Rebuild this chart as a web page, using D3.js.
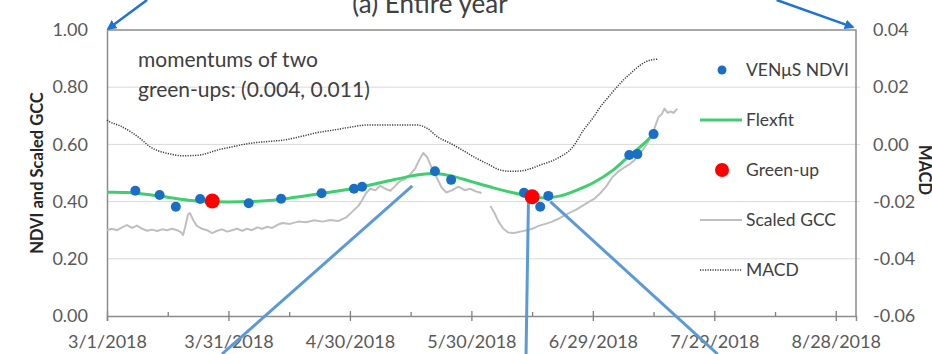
<!DOCTYPE html>
<html>
<head>
<meta charset="utf-8">
<script src="https://cdn.jsdelivr.net/npm/d3@7"></script>
<style>
  body { margin: 0; background: #fff; }
  svg { display: block; font-family: Lato, "Open Sans", sans-serif; }
  .axis .tick text { fill: #595959; font-size: 18px; }
</style>
</head>
<body>
<svg id="chart"></svg>
<script>
// ---------------- data (days since 3/1/2018) ----------------
const xTickLabels = ['3/1/2018', '3/31/2018', '4/30/2018', '5/30/2018', '6/29/2018', '7/29/2018', '8/28/2018'];
const yLeftTicks = [0, 0.2, 0.4, 0.6, 0.8, 1.0];
const yRightTicks = [-0.06, -0.04, -0.02, 0, 0.02, 0.04];

const ndviDays = [7, 13, 17, 23, 35, 43, 53, 61, 63, 81, 85, 103, 107, 109, 129, 131, 135];
const ndviValues = [0.438, 0.423, 0.382, 0.409, 0.394, 0.410, 0.429, 0.445, 0.452, 0.506, 0.476, 0.431, 0.382, 0.420, 0.563, 0.566, 0.636];

const greenupDays = [26, 105];
const greenupValues = [0.402, 0.417];

const flexfitDays = [0, 5, 10, 15, 20, 25, 30, 35, 40, 45, 50, 55, 60, 65, 70, 75, 78, 81, 85, 90, 95, 100, 105, 108, 112, 116, 120, 125, 129, 132, 135];
const flexfitValues = [0.433, 0.432, 0.425, 0.415, 0.405, 0.400, 0.399, 0.400, 0.404, 0.412, 0.422, 0.433, 0.444, 0.458, 0.474, 0.489, 0.496, 0.498, 0.490, 0.470, 0.450, 0.432, 0.418, 0.413, 0.420, 0.440, 0.465, 0.510, 0.560, 0.595, 0.635];

const gccDays = [0, 1.2, 2.5, 3.7, 4.9, 6.2, 7.4, 8.7, 9.9, 11.1,
  12.4, 13.6, 14.8, 16.1, 17.3, 18.3, 18.8, 19.3, 20, 20.5,
  21.3, 22.2, 23.5, 24.7, 26, 27.2, 28.4, 29.7, 30.9, 32.1,
  33.4, 34.6, 35.8, 37.1, 38.3, 39.6, 40.8, 42, 43.3, 45.2,
  47.2, 49.2, 51.2, 53.2, 55.1, 57.1, 59.1, 60.6, 62.1, 63,
  64, 65, 66.3, 67.5, 68.7, 70, 71.2, 72.4, 73.7, 74.9,
  76.1, 77.1, 78.1, 79.1, 80.3, 81.6, 82.6, 83.8, 85.3, 86.8,
  88.3, 89.7, 91.2, 92.5, 93.5, 94.7, 95.7, 96.7, 97.9, 99.1,
  100.6, 102.1, 103.6, 105.1, 106.6, 108.3, 110, 111.5, 113, 114.5,
  115.9, 117.4, 118.9, 120.4, 121.9, 123.4, 124.8, 126.3, 127.8, 129,
  130.3, 131.3, 132.3, 133.3, 134.2, 135.2, 136.2, 137, 137.7, 138.5,
  139.2, 139.9, 140.9];
const gccValues = [0.300, 0.305, 0.300, 0.310, 0.318, 0.308, 0.316, 0.305, 0.298, 0.302,
  0.297, 0.303, 0.300, 0.305, 0.300, 0.292, 0.283, 0.310, 0.355, 0.360,
  0.335, 0.315, 0.305, 0.300, 0.290, 0.298, 0.303, 0.295, 0.300, 0.305,
  0.298, 0.305, 0.300, 0.310, 0.305, 0.312, 0.308, 0.318, 0.325, 0.322,
  0.330, 0.328, 0.335, 0.330, 0.336, 0.332, 0.345, 0.365, 0.385, 0.405,
  0.430, 0.445, 0.440, 0.455, 0.445, 0.438, 0.455, 0.472, 0.480, 0.495,
  0.515, 0.545, 0.570, 0.555, 0.515, 0.480, 0.450, 0.432, 0.440, 0.452,
  0.440, 0.445, 0.435, 0.430, null, 0.385, 0.360, 0.330, 0.305, 0.292,
  0.290, 0.295, 0.300, 0.305, 0.315, 0.322, 0.330, 0.340, 0.352, 0.362,
  0.372, 0.385, 0.398, 0.410, 0.430, 0.455, 0.485, 0.505, 0.520, 0.530,
  0.545, 0.565, 0.580, 0.600, 0.630, 0.655, 0.695, 0.705, 0.725, 0.710,
  0.715, 0.710, 0.725];

const macdDays = [0, 0.7, 3.2, 6.4, 8.7, 10.6, 12.6, 14.8, 16.8, 18.8,
  21, 23, 25, 27.2, 30.4, 35.4, 39.6, 43.5, 47.7, 51.9,
  55.9, 60, 64.3, 68.7, 72.4, 76.6, 79.1, 81.8, 84.8, 87.8,
  90.5, 94, 97.2, 99.6, 102.1, 104.6, 107, 109.5, 112, 115,
  117.7, 120, 121.9, 124.4, 126.8, 129.3, 131.8, 134.2, 136.2];
const macdValues = [0.0085, 0.0079, 0.0065, 0.0039, 0.0015, -0.0008, -0.0022, -0.0031, -0.0037, -0.0040,
  -0.0039, -0.0037, -0.0030, -0.0020, -0.0010, 0.0004, 0.0010, 0.0015, 0.0027, 0.0041,
  0.0050, 0.0060, 0.0068, 0.0068, 0.0068, 0.0068, 0.0056, 0.0025, 0.0004, -0.0020,
  -0.0043, -0.0068, -0.0090, -0.0094, -0.0093, -0.0085, -0.0072, -0.0060, -0.0043, -0.0010,
  0.0050, 0.0092, 0.0132, 0.0175, 0.0214, 0.0248, 0.0278, 0.0295, 0.0298];

// annotation pointer lines from the surrounding figure: [fromDay, fromVal, toDay, toVal]
const pointerArrows = [[9.9, 1.105, 0.3, 1.004], [165.4, 1.105, 184.2, 1.01]];
const pointerLines = [[75.4, 0.455, 28.4, -0.133], [104.1, 0.406, 103.5, -0.133], [109.5, 0.40, 150.8, -0.133]];

const legendItems = [
  {label: 'VENμS NDVI', type: 'ndvi'},
  {label: 'Flexfit', type: 'flexfit'},
  {label: 'Green-up', type: 'greenup'},
  {label: 'Scaled GCC', type: 'gcc'},
  {label: 'MACD', type: 'macd'}
];

class PhenologyChart {

  constructor(_config) {
    this.config = {
      parentElement: _config.parentElement,
      containerWidth: 932,
      containerHeight: 354,
      margin: {top: 30, right: 76, bottom: 38, left: 107},
      startDate: new Date(2018, 2, 1),
      endDate: new Date(2018, 8, 2)
    };
    this.initVis();
  }

  initVis() {
    let vis = this;
    const cfg = vis.config;
    vis.width = cfg.containerWidth - cfg.margin.left - cfg.margin.right;
    vis.height = cfg.containerHeight - cfg.margin.top - cfg.margin.bottom;

    vis.svg = d3.select(cfg.parentElement)
      .attr('width', cfg.containerWidth)
      .attr('height', cfg.containerHeight);

    vis.chart = vis.svg.append('g')
      .attr('transform', `translate(${cfg.margin.left},${cfg.margin.top})`);

    const toDate = d => new Date(cfg.startDate.getTime() + d * 864e5);

    //----------------------------SCALES----------------------------//
    const xScale = d3.scaleTime().domain([cfg.startDate, cfg.endDate]).range([0, vis.width]);
    const yLeft = d3.scaleLinear().domain([0, 1]).range([vis.height, 0]);
    const yRight = d3.scaleLinear().domain([-0.06, 0.04]).range([vis.height, 0]);

    //----------------------------GRID------------------------------//
    vis.chart.append('g')
      .selectAll('line')
      .data(yLeftTicks.filter(d => d > 0 && d < 1))
      .join('line')
      .attr('x1', 0).attr('x2', vis.width + 4)
      .attr('y1', d => yLeft(d)).attr('y2', d => yLeft(d))
      .attr('stroke', '#d9d9d9').attr('stroke-width', 1);

    // top and right border
    vis.chart.append('path')
      .attr('d', `M0,0H${vis.width}V${vis.height}`)
      .attr('fill', 'none').attr('stroke', '#8c8c8c').attr('stroke-width', 1.5);

    //-----------------------------AXES-----------------------------//
    const parseTick = d3.timeParse('%m/%d/%Y');
    const tickDates = xTickLabels.map(parseTick);

    const xAxis = d3.axisBottom(xScale)
      .tickValues(tickDates)
      .tickFormat((d, i) => xTickLabels[i])
      .tickSize(5)
      .tickPadding(14);

    const xAxisG = vis.chart.append('g')
      .attr('class', 'axis')
      .attr('transform', `translate(0,${vis.height})`)
      .call(xAxis);
    xAxisG.select('.domain').attr('stroke', '#8c8c8c').attr('stroke-width', 1.5);
    xAxisG.selectAll('.tick line').attr('y1', -5).attr('y2', 5).attr('stroke', '#7f7f7f').attr('stroke-width', 1.3);

    const minorAxis = d3.axisBottom(xScale)
      .tickValues(tickDates.map(d => d3.timeDay.offset(d, 15)).filter(d => d < cfg.endDate))
      .tickFormat('')
      .tickSize(-4);
    const minorG = vis.chart.append('g')
      .attr('transform', `translate(0,${vis.height})`)
      .call(minorAxis);
    minorG.select('.domain').remove();
    minorG.selectAll('.tick line').attr('stroke', '#7f7f7f').attr('stroke-width', 1.3);

    const yAxisL = d3.axisLeft(yLeft)
      .tickValues(yLeftTicks)
      .tickFormat(d => d.toFixed(2))
      .tickSize(0)
      .tickPadding(19);
    const yLG = vis.chart.append('g').attr('class', 'axis').call(yAxisL);
    yLG.select('.domain').attr('stroke', '#8c8c8c').attr('stroke-width', 1.5);

    const yAxisR = d3.axisRight(yRight)
      .tickValues(yRightTicks)
      .tickFormat(d => d.toFixed(2))
      .tickSize(0)
      .tickPadding(17);
    const yRG = vis.chart.append('g')
      .attr('class', 'axis')
      .attr('transform', `translate(${vis.width},0)`)
      .call(yAxisR);
    yRG.select('.domain').remove();

    vis.svg.selectAll('.axis .tick text').attr('font-family', 'Lato, "Open Sans", sans-serif');

    // axis titles
    vis.svg.append('text')
      .attr('transform', `translate(43,${cfg.margin.top + vis.height / 2}) rotate(-90)`)
      .attr('text-anchor', 'middle')
      .attr('font-size', 16.5).attr('font-weight', 'bold').attr('fill', '#262626')
      .text('NDVI and Scaled GCC');

    vis.svg.append('text')
      .attr('transform', `translate(919,170) rotate(90)`)
      .attr('text-anchor', 'middle')
      .attr('font-size', 16.5).attr('font-weight', 'bold').attr('fill', '#262626')
      .text('MACD');

    // title (cut by the top edge)
    vis.svg.append('text')
      .attr('x', 430).attr('y', 13)
      .attr('text-anchor', 'middle')
      .attr('font-size', 26).attr('fill', '#404040')
      .text('(a) Entire year');

    //----------------------------LINES-----------------------------//
    const macdLine = d3.line()
      .x((d, i) => xScale(toDate(macdDays[i])))
      .y(d => yRight(d))
      .curve(d3.curveMonotoneX);
    vis.chart.append('path')
      .attr('d', macdLine(macdValues))
      .attr('fill', 'none').attr('stroke', '#3a3a3a')
      .attr('stroke-width', 1.5).attr('stroke-dasharray', '1.2,1.3');

    const gccLine = d3.line()
      .defined(d => d !== null)
      .x((d, i) => xScale(toDate(gccDays[i])))
      .y(d => yLeft(d));
    vis.chart.append('path')
      .attr('d', gccLine(gccValues))
      .attr('fill', 'none').attr('stroke', '#bfbfbf')
      .attr('stroke-width', 2).attr('stroke-linejoin', 'round');

    const fitLine = d3.line()
      .x((d, i) => xScale(toDate(flexfitDays[i])))
      .y(d => yLeft(d))
      .curve(d3.curveCatmullRom);
    vis.chart.append('path')
      .attr('d', fitLine(flexfitValues))
      .attr('fill', 'none').attr('stroke', '#3ecf6e')
      .attr('stroke-width', 3);

    // pointer lines from the surrounding figure
    vis.chart.append('g')
      .selectAll('line')
      .data(pointerLines)
      .join('line')
      .attr('x1', d => xScale(toDate(d[0]))).attr('y1', d => yLeft(d[1]))
      .attr('x2', d => xScale(toDate(d[2]))).attr('y2', d => yLeft(d[3]))
      .attr('stroke', '#5b9bd5').attr('stroke-width', 3);

    vis.svg.append('defs').append('marker')
      .attr('id', 'arrowhead')
      .attr('viewBox', '0 0 10 10')
      .attr('refX', 8).attr('refY', 5)
      .attr('markerWidth', 4).attr('markerHeight', 4)
      .attr('orient', 'auto')
      .append('path').attr('d', 'M0,0L10,5L0,10Z').attr('fill', '#1f74d0');

    vis.chart.append('g')
      .selectAll('line')
      .data(pointerArrows)
      .join('line')
      .attr('x1', d => xScale(toDate(d[0]))).attr('y1', d => yLeft(d[1]))
      .attr('x2', d => xScale(toDate(d[2]))).attr('y2', d => yLeft(d[3]))
      .attr('stroke', '#1f74d0').attr('stroke-width', 2.5)
      .attr('marker-end', 'url(#arrowhead)');

    //----------------------------POINTS----------------------------//
    vis.chart.append('g')
      .selectAll('circle')
      .data(ndviValues)
      .join('circle')
      .attr('cx', (d, i) => xScale(toDate(ndviDays[i])))
      .attr('cy', d => yLeft(d))
      .attr('r', 5)
      .attr('fill', '#1a6fc4');

    vis.chart.append('g')
      .selectAll('circle')
      .data(greenupValues)
      .join('circle')
      .attr('cx', (d, i) => xScale(toDate(greenupDays[i])))
      .attr('cy', d => yLeft(d))
      .attr('r', 7.5)
      .attr('fill', '#ff0000');

    //----------------------------NOTE------------------------------//
    const note = vis.svg.append('text')
      .attr('font-size', 21).attr('fill', '#404040');
    note.append('tspan').attr('x', 138).attr('y', 67).text('momentums of two');
    note.append('tspan').attr('x', 138).attr('y', 97).text('green-ups: (0.004, 0.011)');

    //----------------------------LEGEND----------------------------//
    const legend = vis.svg.append('g')
      .selectAll('g')
      .data(legendItems)
      .join('g')
      .attr('transform', (d, i) => `translate(700,${70 + i * 50})`);

    legend.each(function(d) {
      const g = d3.select(this);
      if (d.type === 'ndvi') {
        g.append('circle').attr('cx', 22).attr('r', 4.5).attr('fill', '#1a6fc4');
      } else if (d.type === 'greenup') {
        g.append('circle').attr('cx', 22).attr('r', 7).attr('fill', '#ff0000');
      } else if (d.type === 'flexfit') {
        g.append('line').attr('x1', 0).attr('x2', 42).attr('stroke', '#3ecf6e').attr('stroke-width', 3);
      } else if (d.type === 'gcc') {
        g.append('line').attr('x1', 0).attr('x2', 42).attr('stroke', '#bfbfbf').attr('stroke-width', 2);
      } else {
        g.append('line').attr('x1', 0).attr('x2', 42).attr('stroke', '#3a3a3a')
          .attr('stroke-width', 1.5).attr('stroke-dasharray', '1.2,1.3');
      }
      g.append('text')
        .attr('x', 46).attr('y', 6)
        .attr('font-size', 17.5).attr('fill', '#404040')
        .text(d.label);
    });
  }
}

new PhenologyChart({parentElement: '#chart'});
</script>
</body>
</html>
